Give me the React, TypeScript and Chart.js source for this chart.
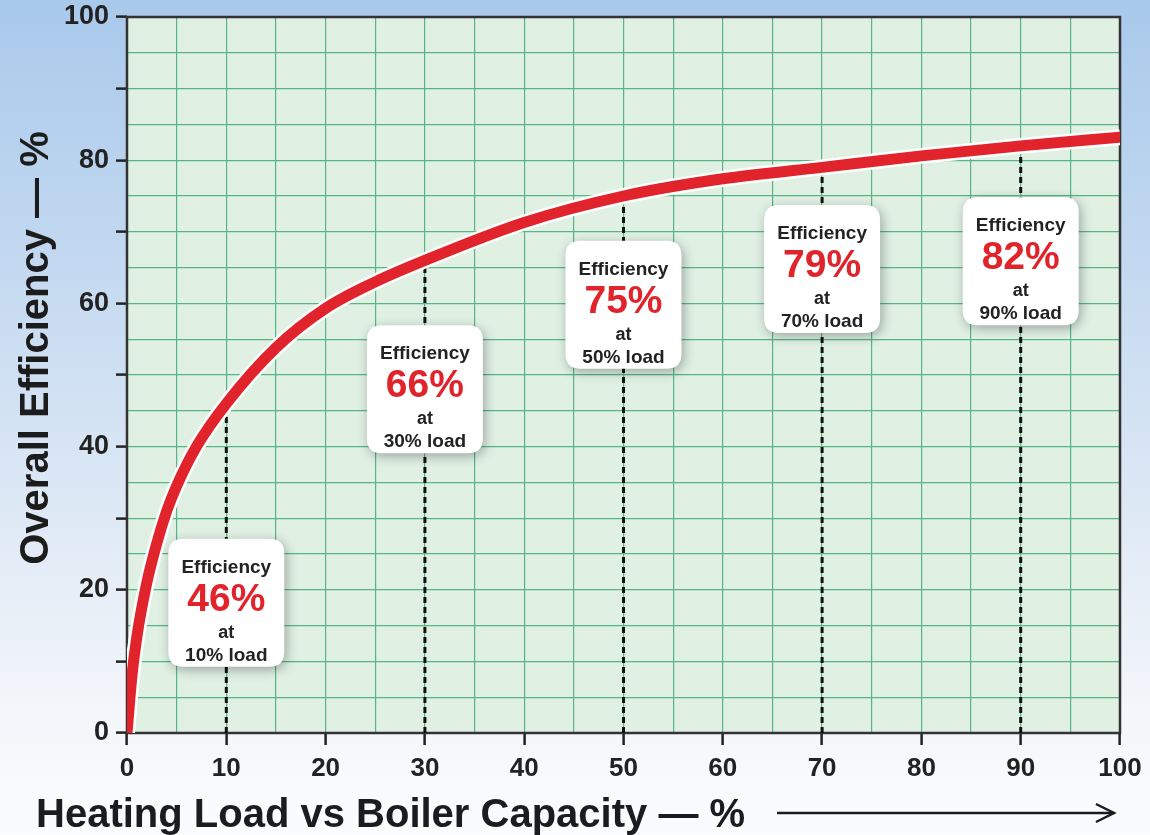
import React, { useEffect, useRef } from "react";
import { Chart, registerables } from "chart.js";

Chart.register(...registerables);

// Boiler part-load efficiency curve
const loadPct = [0, 0.5, 1, 2, 3, 4, 5, 7, 10, 15, 20, 25, 30, 40, 50, 60, 70, 80, 90, 100];
const efficiency = [0, 8, 13.5, 21, 26.5, 31, 34.5, 40, 46, 53.8, 59.3, 63, 66, 71.3, 75, 77.4, 79, 80.6, 82, 83.2];

// Called-out operating points
const calloutLoad = [10, 30, 50, 70, 90];
const calloutEff = [46, 66, 75, 79, 82];
// Vertical centre of each callout box, in efficiency units
const calloutCenterY = [18.2, 48, 59.8, 64.8, 65.9];

const xTickValues = [0, 10, 20, 30, 40, 50, 60, 70, 80, 90, 100];
const yTickValues = [0, 20, 40, 60, 80, 100];

const xTitle = "Heating Load vs Boiler Capacity — %";
const yTitle = "Overall Efficiency — %";

const FONT = "'Liberation Sans', Arial, Helvetica, sans-serif";
const RED = "#e1232b";
const INK = "#222222";

function roundRect(ctx: CanvasRenderingContext2D, x: number, y: number, w: number, h: number, r: number) {
  ctx.beginPath();
  ctx.moveTo(x + r, y);
  ctx.lineTo(x + w - r, y);
  ctx.quadraticCurveTo(x + w, y, x + w, y + r);
  ctx.lineTo(x + w, y + h - r);
  ctx.quadraticCurveTo(x + w, y + h, x + w - r, y + h);
  ctx.lineTo(x + r, y + h);
  ctx.quadraticCurveTo(x, y + h, x, y + h - r);
  ctx.lineTo(x, y + r);
  ctx.quadraticCurveTo(x, y, x + r, y);
  ctx.closePath();
}

const plotDecor = {
  id: "plotDecor",
  beforeDraw(chart: any) {
    const { ctx, chartArea: a } = chart;
    ctx.save();
    ctx.fillStyle = "#e0f1e4";
    ctx.fillRect(a.left, a.top, a.right - a.left, a.bottom - a.top);
    ctx.restore();
  },
  beforeDatasetsDraw(chart: any) {
    const { ctx, chartArea: a } = chart;
    ctx.save();
    ctx.strokeStyle = "#333333";
    ctx.lineWidth = 2.5;
    ctx.strokeRect(a.left, a.top, a.right - a.left, a.bottom - a.top);
    ctx.restore();
  },
  afterDatasetsDraw(chart: any) {
    const { ctx } = chart;
    const xs = chart.scales.x;
    const ys = chart.scales.y;
    const w = 116;
    const h = 128;
    calloutLoad.forEach((load, i) => {
      const cx = xs.getPixelForValue(load);
      const cy = ys.getPixelForValue(calloutCenterY[i]);
      const left = cx - w / 2;
      const top = cy - h / 2;
      ctx.save();
      ctx.shadowColor = "rgba(0,0,0,0.32)";
      ctx.shadowBlur = 12;
      ctx.shadowOffsetX = 2;
      ctx.shadowOffsetY = 3;
      ctx.fillStyle = "#ffffff";
      roundRect(ctx, left, top, w, h, 15);
      ctx.fill();
      ctx.restore();

      ctx.save();
      ctx.textAlign = "center";
      ctx.textBaseline = "alphabetic";
      ctx.fillStyle = INK;
      ctx.font = `bold 19px ${FONT}`;
      ctx.fillText("Efficiency", cx, top + 34);
      ctx.fillStyle = RED;
      ctx.font = `bold 39px ${FONT}`;
      ctx.fillText(`${calloutEff[i]}%`, cx, top + 72);
      ctx.fillStyle = INK;
      ctx.font = `bold 18px ${FONT}`;
      ctx.fillText("at", cx, top + 99);
      ctx.font = `bold 19px ${FONT}`;
      ctx.fillText(`${load}% load`, cx, top + 122);
      ctx.restore();
    });
  },
  afterDraw(chart: any) {
    const { ctx } = chart;
    ctx.save();
    ctx.fillStyle = "#1c1c1c";
    ctx.font = `bold 40px ${FONT}`;
    // y-axis title
    ctx.save();
    ctx.translate(37, 348);
    ctx.rotate(-Math.PI / 2);
    ctx.textAlign = "center";
    ctx.textBaseline = "middle";
    ctx.fillText(yTitle, 0, 0);
    ctx.restore();
    // x-axis title with arrow
    ctx.textAlign = "left";
    ctx.textBaseline = "alphabetic";
    ctx.fillText(xTitle, 36, 827);
    const tw = ctx.measureText(xTitle).width;
    const ay = 813;
    const x0 = 36 + tw + 32;
    const x1 = 1114;
    ctx.strokeStyle = "#1c1c1c";
    ctx.lineWidth = 2.5;
    ctx.beginPath();
    ctx.moveTo(x0, ay);
    ctx.lineTo(x1, ay);
    ctx.stroke();
    ctx.beginPath();
    ctx.moveTo(x1 - 18, ay - 9);
    ctx.lineTo(x1, ay);
    ctx.lineTo(x1 - 18, ay + 9);
    ctx.stroke();
    ctx.restore();
  },
};

export default function App() {
  const canvasRef = useRef<HTMLCanvasElement | null>(null);

  useEffect(() => {
    const canvas = canvasRef.current;
    if (!canvas) return;
    const curve = loadPct.map((x, i) => ({ x, y: efficiency[i] }));
    const dropLines = calloutLoad.map((load, i) => ({
      type: "line" as const,
      data: [
        { x: load, y: 0 },
        { x: load, y: calloutEff[i] },
      ],
      borderColor: "#111111",
      borderWidth: 3,
      borderDash: [6, 4],
      pointRadius: 0,
      fill: false,
    }));

    const chart = new Chart(canvas, {
      type: "line",
      data: {
        datasets: [
          {
            data: curve,
            borderColor: RED,
            borderWidth: 11,
            pointRadius: 0,
            cubicInterpolationMode: "monotone",
            fill: false,
            borderCapStyle: "round",
          },
          {
            data: curve,
            borderColor: "#ffffff",
            borderWidth: 16,
            pointRadius: 0,
            cubicInterpolationMode: "monotone",
            fill: false,
          },
          ...dropLines,
        ],
      },
      options: {
        animation: false,
        responsive: false,
        devicePixelRatio: 1,
        layout: { padding: { top: 17, right: 30, left: 0, bottom: 0 } },
        plugins: { legend: { display: false }, tooltip: { enabled: false } },
        scales: {
          x: {
            type: "linear",
            min: 0,
            max: 100,
            afterFit: (s: any) => {
              s.height = 102;
              s.paddingLeft = 0;
              s.paddingRight = 0;
            },
            afterBuildTicks: (s: any) => {
              s.ticks = Array.from({ length: 21 }, (_, i) => ({ value: i * 5 }));
            },
            ticks: {
              autoSkip: false,
              maxRotation: 0,
              padding: 8,
              color: INK,
              font: { family: FONT, size: 26, weight: "bold" },
              callback: (v: any) => (xTickValues.includes(Number(v)) ? String(v) : ""),
            },
            grid: {
              color: "#58b585",
              lineWidth: 1.2,
              tickLength: 12,
              tickWidth: 2.5,
              tickColor: (c: any) => (c.tick && c.tick.value % 10 === 0 ? "#222222" : "rgba(0,0,0,0)"),
            },
            border: { display: false },
          },
          y: {
            type: "linear",
            min: 0,
            max: 100,
            afterFit: (s: any) => {
              s.width = 127;
              s.paddingTop = 0;
              s.paddingBottom = 0;
            },
            afterBuildTicks: (s: any) => {
              s.ticks = Array.from({ length: 21 }, (_, i) => ({ value: i * 5 }));
            },
            ticks: {
              autoSkip: false,
              padding: 7,
              color: INK,
              font: { family: FONT, size: 27, weight: "bold" },
              callback: (v: any) => (yTickValues.includes(Number(v)) ? String(v) : ""),
            },
            grid: {
              color: "#58b585",
              lineWidth: 1.2,
              tickLength: 11,
              tickWidth: 2.5,
              tickColor: (c: any) => (c.tick && c.tick.value % 10 === 0 ? "#222222" : "rgba(0,0,0,0)"),
            },
            border: { display: false },
          },
        },
      } as any,
      plugins: [plotDecor],
    });
    return () => chart.destroy();
  }, []);

  return (
    <div
      style={{
        position: "fixed",
        left: 0,
        top: 0,
        width: 1150,
        height: 835,
        background: "linear-gradient(to bottom, #a9c9eb 0%, #c2d8f0 30%, #dde8f5 60%, #f3f6fa 85%, #fbfcfd 100%)",
      }}
    >
      <canvas ref={canvasRef} width={1150} height={835} style={{ display: "block" }} />
    </div>
  );
}
